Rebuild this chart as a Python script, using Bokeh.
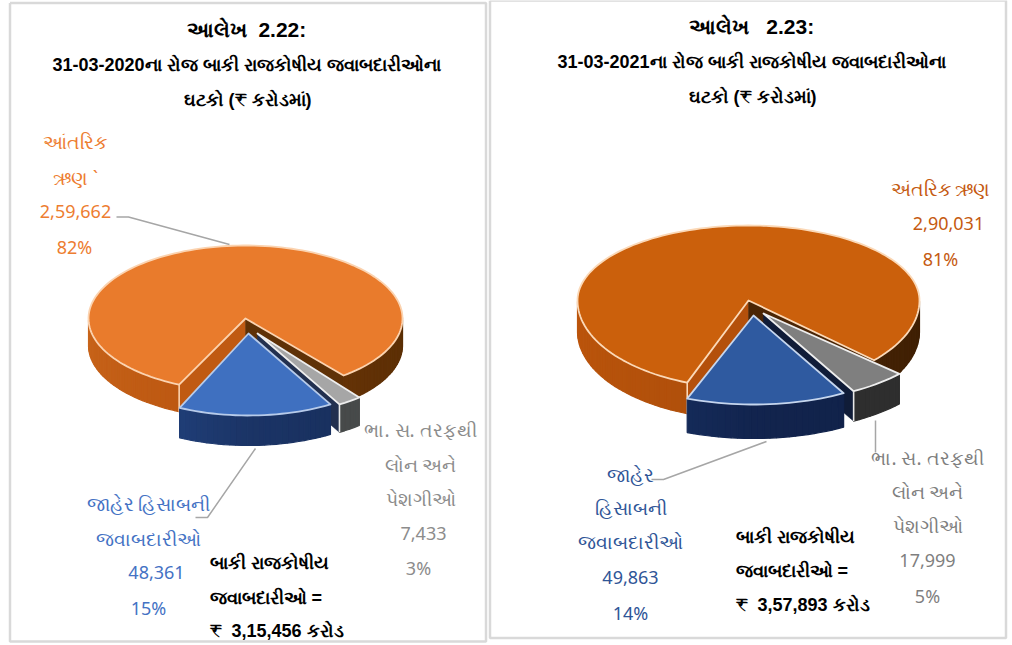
import math
from bokeh.plotting import figure
from bokeh.models import Range1d
from bokeh.core.properties import value
from bokeh.embed import file_html
from bokeh.resources import INLINE

# ---- data ----
categories_2020 = ["આંતરિક ઋણ", "ભા. સ. તરફથી લોન અને પેશગીઓ", "જાહેર હિસાબની જવાબદારીઓ"]
values_2020 = [259662, 7433, 48361]
categories_2021 = ["અંતરિક ઋણ", "ભા. સ. તરફથી લોન અને પેશગીઓ", "જાહેર હિસાબની જવાબદારીઓ"]
values_2021 = [290031, 17999, 49863]

W, H = 1012, 645
p = figure(width=W, height=H, x_range=Range1d(0, W), y_range=Range1d(H, 0),
           toolbar_location=None, output_backend="svg", min_border=0,
           outline_line_color=None, background_fill_color="white")
p.xaxis.visible = False
p.yaxis.visible = False
p.xgrid.visible = False
p.ygrid.visible = False


def lerp(c1, c2, t):
    a = [int(c1[i:i + 2], 16) for i in (1, 3, 5)]
    b = [int(c2[i:i + 2], 16) for i in (1, 3, 5)]
    return "#%02x%02x%02x" % tuple(round(a[i] + (b[i] - a[i]) * t) for i in range(3))


def pt(s, th, d=0):
    r = math.radians(th)
    c = math.cos(r)
    ry = s["ry_back"] if c > 0 else s["ry"]
    return s["cx"] + s["rx"] * math.sin(r), s["cy"] - ry * c + d


def arc(s, a, b, n=None):
    n = n or max(2, int(abs(b - a) / 2))
    return [a + (b - a) * i / n for i in range(n + 1)]


def wall(s, a, b, left, right):
    """Outer wall between angles a..b, only where it faces the viewer."""
    xs, ys, cs = [], [], []
    ths = arc(s, a, b)
    for t0, t1 in zip(ths[:-1], ths[1:]):
        m = ((t0 + t1) / 2) % 360
        if not 90 <= m <= 270:
            continue
        x0, y0 = pt(s, t0)
        x1, y1 = pt(s, t1)
        xs.append([x0, x1, x1, x0])
        ys.append([y0, y1, y1 + s["depth"], y0 + s["depth"]])
        f = (m - 90) / 180
        cs.append(lerp(right[0], right[1], f * 2) if f < .5 else lerp(left[0], left[1], (f - .5) * 2))
    if xs:
        p.patches(xs, ys, fill_color=cs, line_color=cs, line_width=1.2)


def cut(s, th, color):
    x0, y0 = s["cx"], s["cy"]
    x1, y1 = pt(s, th)
    d = s["depth"]
    p.patch([x0, x1, x1, x0], [y0, y1, y1 + d, y0 + d], fill_color=color, line_color=color, line_width=.5)


def top(s, a, b, color, edge, lw=1.8):
    ths = arc(s, a, b)
    pts = [pt(s, t) for t in ths]
    xs = [s["cx"]] + [q[0] for q in pts] + [s["cx"]]
    ys = [s["cy"]] + [q[1] for q in pts] + [s["cy"]]
    p.patch(xs, ys, fill_color=color, line_color=edge, line_width=lw, line_join="round")


def vedge(s, th, color, lw=1.6):
    x, y = pt(s, th)
    p.line([x, x], [y, y + s["depth"]], line_color=color, line_width=lw)


def pie(values, start, orange, gray, blue, st):
    tot = sum(values)
    sw = [v / tot * 360 for v in values]
    a0 = start
    a1 = a0 + sw[0]
    a2 = a1 + sw[1]
    a3 = a2 + sw[2]
    # orange
    cut(orange, a0, st["o_cut_l"])
    cut(orange, a1, st["o_cut_r"])
    wall(orange, a0, a1, st["o_wall_l"], st["o_wall_r"])
    top(orange, a0, a1, st["o_top"], st["o_edge"])
    vedge(orange, a0, st["o_edge"])
    # gray
    cut(gray, a2, st["g_cut"])
    wall(gray, a1, a2, st["g_wall"], st["g_wall"])
    top(gray, a1, a2, st["g_top"], "#eeeeee")
    vedge(gray, a2, "#e8e8e8")
    # blue
    wall(blue, a2, a3, st["b_wall_l"], st["b_wall_r"])
    top(blue, a2, a3, st["b_top"], st["b_edge"])


pie(values_2020, 205,
    dict(cx=245, cy=318, rx=157, ry=73, ry_back=73, depth=27),
    dict(cx=257, cy=333, rx=163, ry=82, ry_back=82, depth=28),
    dict(cx=248, cy=333, rx=163, ry=82, ry_back=82, depth=30),
    dict(o_top="#e97b2c", o_edge="#fbd3b0", o_cut_l="#c05a12", o_cut_r="#5f3106",
         o_wall_l=("#b9540f", "#c8641a"), o_wall_r=("#5a2e05", "#6b3507"),
         g_top="#a6a6a6", g_wall=("#474a4a", "#474a4a"), g_cut="#22304f",
         b_top="#3f70c0", b_edge="#b7cbea", b_wall_l=("#1b3466", "#2a559f"), b_wall_r=("#142a52", "#1b3466")))
pie(values_2021, 201,
    dict(cx=748, cy=300, rx=171, ry=88, ry_back=75, depth=31),
    dict(cx=763, cy=313, rx=185, ry=89, ry_back=89, depth=30),
    dict(cx=753, cy=315, rx=185, ry=89, ry_back=89, depth=34),
    dict(o_top="#cb600c", o_edge="#fbd9b8", o_cut_l="#b4500b", o_cut_r="#4a2505",
         o_wall_l=("#ad4e0a", "#bc550c"), o_wall_r=("#3e1f04", "#4a2505"),
         g_top="#7f7f7f", g_wall=("#2e2e2e", "#2e2e2e"), g_cut="#101c38",
         b_top="#2f5aa0", b_edge="#c6d6ee", b_wall_l=("#12244e", "#1d3f7c"), b_wall_r=("#0f1f42", "#12244e")))

# panel frames
p.line([9.5, 485.5, 485.5, 9.5, 9.5], [2.5, 2.5, 641, 641, 2.5], line_color="#d9d9d9", line_width=2.5)
p.line([489.5, 489.5, 1005.5, 1005.5, 489.5], [0, 637.5, 637.5, 0, 0], line_color="#d9d9d9", line_width=2.5)

# leader lines
lead = "#a6a6a6"
p.line([116, 128, 229], [216.5, 216.5, 244], line_color=lead, line_width=1.5)
p.line([195, 207, 255], [517, 517, 448], line_color=lead, line_width=1.5)
p.line([651, 663, 766], [479, 479, 441], line_color=lead, line_width=1.5)
p.line([875, 875], [420, 452], line_color=lead, line_width=1.5)


def labels(rows, color, bold=False, align="center", font="Noto Sans", size=None):
    for x, y, t in rows:
        digits = t[0].isdigit()
        s = size or ("18px" if digits else "19px")
        p.text([x], [y], text=[t.replace("  ", "\u00a0\u00a0")], text_color=color, text_font=value(font),
               text_font_size=s, text_align=align, text_baseline="middle",
               text_font_style="bold" if bold else "normal")


B = "Liberation Sans"
labels([(246, 29, "આલેખ  2.22:")], "#000000", True, font=B, size="21px")
labels([(246, 64, "31-03-2020ના રોજ બાકી રાજકોષીય જવાબદારીઓના"),
        (246, 99, "ઘટકો (₹ કરોડમાં)")], "#000000", True, font=B, size="18px")
labels([(751, 26, "આલેખ   2.23:")], "#000000", True, font=B, size="21px")
labels([(751, 61, "31-03-2021ના રોજ બાકી રાજકોષીય જવાબદારીઓના"),
        (751, 96, "ઘટકો (₹ કરોડમાં)")], "#000000", True, font=B, size="18px")
labels([(209, 562, "બાકી રાજકોષીય"), (209, 597, "જવાબદારીઓ ="), (209, 630, "₹  3,15,456 કરોડ"),
        (735, 536, "બાકી રાજકોષીય"), (735, 570, "જવાબદારીઓ ="), (735, 604, "₹  3,57,893 કરોડ")],
       "#000000", True, "left", B, "18px")

labels([(74, 141, "આંતરિક"), (75, 177, "ઋણ `"), (75, 211, "2,59,662"), (74, 246, "82%")], "#ed7d31")
labels([(148, 503, "જાહેર હિસાબની"), (148, 538, "જવાબદારીઓ"), (156, 572, "48,361"), (148, 607, "15%")], "#4472c4")
labels([(420, 429, "ભા. સ. તરફથી"), (420, 464, "લોન અને"), (420, 498, "પેશગીઓ"), (423, 533, "7,433"), (418, 567, "3%")], "#8c8c8c")
labels([(940, 188, "અંતરિક ઋણ"), (948, 223, "2,90,031"), (940, 258, "81%")], "#c55a11")
labels([(630, 474, "જાહેર"), (630, 507, "હિસાબની"), (630, 541, "જવાબદારીઓ"), (630, 577, "49,863"), (630, 612, "14%")], "#2f5597")
labels([(927, 457, "ભા. સ. તરફથી"), (927, 491, "લોન અને"), (927, 525, "પેશગીઓ"), (927, 560, "17,999"), (927, 595, "5%")], "#7f7f7f")

open("out.html", "w").write(file_html(p, INLINE))
